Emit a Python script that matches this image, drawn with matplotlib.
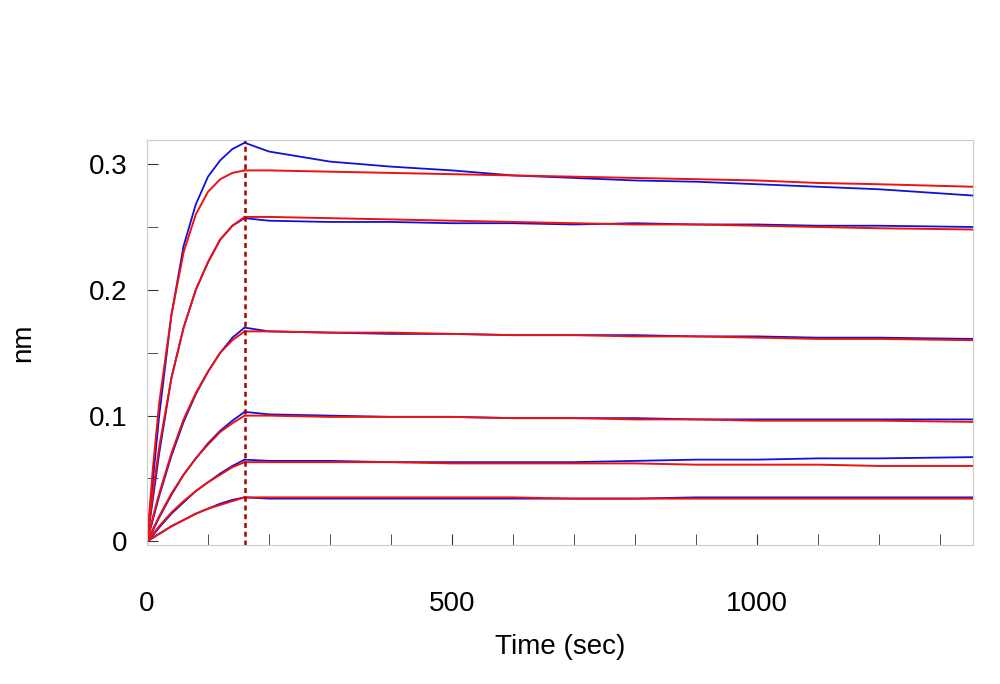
import matplotlib
matplotlib.use("Agg")
import matplotlib.pyplot as plt
from matplotlib.ticker import MultipleLocator

plt.rcParams["font.family"] = "Liberation Sans"

# association / dissociation sample times (sec)
t_assoc = [0, 10, 20, 40, 60, 80, 100, 120, 140, 160]
t_dissoc = [160, 200, 300, 400, 500, 600, 700, 800, 900, 1000, 1100, 1200, 1354]

# fitted curves (red)
fit_assoc = [
    [0, 0.06, 0.11, 0.18, 0.23, 0.260, 0.278, 0.288, 0.293, 0.295],
    [0, 0.04, 0.075, 0.13, 0.17, 0.200, 0.222, 0.240, 0.251, 0.258],
    [0, 0.02, 0.038, 0.070, 0.097, 0.118, 0.135, 0.150, 0.160, 0.167],
    [0, 0.010, 0.020, 0.038, 0.053, 0.066, 0.077, 0.087, 0.094, 0.100],
    [0, 0.006, 0.012, 0.023, 0.032, 0.040, 0.047, 0.053, 0.059, 0.063],
    [0, 0.003, 0.006, 0.012, 0.017, 0.022, 0.026, 0.029, 0.032, 0.035],
]
fit_dissoc = [
    [0.295, 0.295, 0.294, 0.293, 0.292, 0.291, 0.290, 0.289, 0.288, 0.287, 0.285, 0.284, 0.282],
    [0.258, 0.258, 0.257, 0.256, 0.255, 0.254, 0.253, 0.252, 0.252, 0.251, 0.250, 0.249, 0.248],
    [0.167, 0.167, 0.166, 0.166, 0.165, 0.164, 0.164, 0.163, 0.163, 0.162, 0.161, 0.161, 0.160],
    [0.100, 0.100, 0.099, 0.099, 0.099, 0.098, 0.098, 0.097, 0.097, 0.096, 0.096, 0.096, 0.095],
    [0.063, 0.063, 0.063, 0.063, 0.062, 0.062, 0.062, 0.062, 0.061, 0.061, 0.061, 0.060, 0.060],
    [0.035, 0.035, 0.035, 0.035, 0.035, 0.035, 0.034, 0.034, 0.034, 0.034, 0.034, 0.034, 0.034],
]
# measured curves (blue)
data_assoc = [
    [0, 0.05, 0.10, 0.18, 0.235, 0.268, 0.290, 0.303, 0.312, 0.317],
    [0, 0.035, 0.07, 0.13, 0.17, 0.200, 0.222, 0.240, 0.251, 0.257],
    [0, 0.018, 0.036, 0.068, 0.095, 0.117, 0.135, 0.150, 0.162, 0.170],
    [0, 0.009, 0.019, 0.037, 0.053, 0.066, 0.078, 0.088, 0.096, 0.103],
    [0, 0.005, 0.011, 0.022, 0.031, 0.040, 0.047, 0.054, 0.060, 0.065],
    [0, 0.003, 0.006, 0.012, 0.017, 0.022, 0.026, 0.030, 0.033, 0.035],
]
data_dissoc = [
    [0.317, 0.310, 0.302, 0.298, 0.295, 0.291, 0.289, 0.287, 0.286, 0.284, 0.282, 0.280, 0.275],
    [0.257, 0.255, 0.254, 0.254, 0.253, 0.253, 0.252, 0.253, 0.252, 0.252, 0.251, 0.251, 0.250],
    [0.170, 0.167, 0.166, 0.165, 0.165, 0.164, 0.164, 0.164, 0.163, 0.163, 0.162, 0.162, 0.161],
    [0.103, 0.101, 0.100, 0.099, 0.099, 0.098, 0.098, 0.098, 0.097, 0.097, 0.097, 0.097, 0.097],
    [0.065, 0.064, 0.064, 0.063, 0.063, 0.063, 0.063, 0.064, 0.065, 0.065, 0.066, 0.066, 0.067],
    [0.035, 0.034, 0.034, 0.034, 0.034, 0.034, 0.034, 0.034, 0.035, 0.035, 0.035, 0.035, 0.035],
]
switch_time = 160
x_ticks = [0, 500, 1000]
y_ticks = [0, 0.1, 0.2, 0.3]
y_tick_labels = ["0", "0.1", "0.2", "0.3"]

fig = plt.figure(figsize=(10, 6.84), dpi=100)
ax = fig.add_axes([0.147, 0.203, 0.826, 0.592])
for da, dd in zip(data_assoc, data_dissoc):
    ax.plot(t_assoc, da, color="#1010dd", lw=1.3)
    ax.plot(t_dissoc, dd, color="#1010dd", lw=1.3)
for fa, fd in zip(fit_assoc, fit_dissoc):
    ax.plot(t_assoc, fa, color="#ee1111", lw=1.4)
    ax.plot(t_dissoc, fd, color="#ee1111", lw=1.4)
ax.axvline(switch_time, color="#aa0000", lw=1.8, ls=(0, (2, 1.5)))

ax.set_xlim(0, 1354)
ax.set_ylim(-0.003, 0.319)
ax.set_xticks(x_ticks)
ax.xaxis.set_minor_locator(MultipleLocator(100))
ax.set_yticks(y_ticks)
ax.set_yticklabels(y_tick_labels)
ax.yaxis.set_minor_locator(MultipleLocator(0.05))
ax.tick_params(axis="both", which="both", direction="in", labelsize=20, color="#333333")
ax.tick_params(axis="both", which="major", length=8)
ax.tick_params(axis="x", which="major", pad=33)
ax.tick_params(axis="y", which="major", pad=14)
ax.tick_params(axis="both", which="minor", length=8)
for s in ax.spines.values():
    s.set_color("#cccccc")
ax.set_xlabel("Time (sec)", fontsize=20, labelpad=12)
ax.set_ylabel("nm", fontsize=20, labelpad=38)
fig.savefig("out.png", dpi=100)
